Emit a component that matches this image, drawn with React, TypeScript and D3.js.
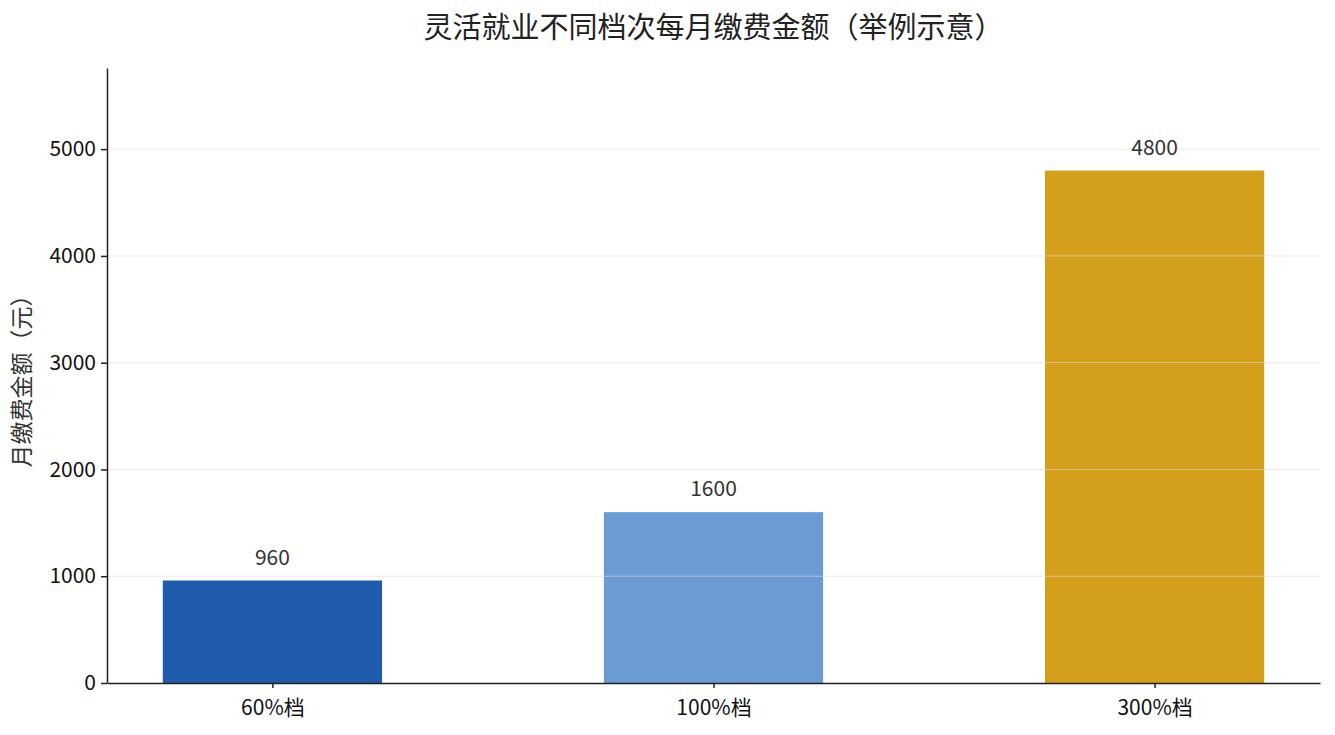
import { useEffect, useRef } from "react";
import * as d3 from "d3";

const categories = ["60%档", "100%档", "300%档"];
const amounts = [960, 1600, 4800];
const barColors = ["#1f5bad", "#6c9bd3", "#d4a01b"];
const yTicks = [0, 1000, 2000, 3000, 4000, 5000];

const WIDTH = 1335;
const HEIGHT = 735;
const FONT = "'Noto Sans CJK SC', 'Noto Sans', sans-serif";

const App = () => {
	const svgRef = useRef<SVGSVGElement>(null);

	useEffect(() => {
		if (!svgRef.current) return;
		const margin = { top: 68, left: 107, right: 15, bottom: 52 };

		const svg = d3.select(svgRef.current);
		svg.selectAll("*").remove();

		// échelles
		const xScale = d3
			.scaleLinear()
			.domain([-0.375, categories.length - 1 + 0.375])
			.range([margin.left, WIDTH - margin.right]);
		const yScale = d3
			.scaleLinear()
			.domain([0, d3.max(amounts)! * 1.2])
			.range([HEIGHT - margin.bottom, margin.top]);

		const barW = (xScale(1) - xScale(0)) * 0.497;

		// titre
		svg
			.append("text")
			.attr("x", (margin.left + WIDTH - margin.right) / 2)
			.attr("y", 38)
			.attr("text-anchor", "middle")
			.attr("fill", "#222")
			.style("font-size", "29px")
			.text("灵活就业不同档次每月缴费金额（举例示意）");

		// barres
		svg
			.append("g")
			.selectAll("rect")
			.data(amounts)
			.enter()
			.append("rect")
			.attr("x", (_d, i) => xScale(i) - barW / 2)
			.attr("y", (d) => yScale(d))
			.attr("width", barW)
			.attr("height", (d) => yScale(0) - yScale(d))
			.attr("fill", (_d, i) => barColors[i]);

		// grille (au-dessus des barres)
		svg
			.append("g")
			.selectAll("line")
			.data(yTicks.filter((t) => t > 0))
			.enter()
			.append("line")
			.attr("x1", margin.left)
			.attr("x2", WIDTH - margin.right)
			.attr("y1", (d) => yScale(d))
			.attr("y2", (d) => yScale(d))
			.attr("stroke", "#dcdcdc")
			.attr("stroke-opacity", 0.6)
			.attr("stroke-width", 1);

		// étiquettes de valeurs
		svg
			.append("g")
			.selectAll("text")
			.data(amounts)
			.enter()
			.append("text")
			.attr("x", (_d, i) => xScale(i))
			.attr("y", (d) => yScale(d) - 16)
			.attr("text-anchor", "middle")
			.attr("fill", "#333")
			.style("font-size", "21px")
			.text((d) => d);

		// axe Y
		const yAxis = d3
			.axisLeft(yScale)
			.tickValues(yTicks)
			.tickFormat(d3.format("d"))
			.tickSize(6)
			.tickPadding(5)
			.tickSizeOuter(0);
		const gy = svg
			.append("g")
			.attr("transform", `translate(${margin.left},0)`)
			.call(yAxis);
		gy.selectAll("text").style("font-size", "21px").attr("fill", "#111");
		gy.selectAll("line").attr("stroke", "#222").attr("stroke-width", 1.5);
		gy.select(".domain").attr("stroke", "#222").attr("stroke-width", 1.5);

		// axe X
		const xAxis = d3
			.axisBottom(xScale)
			.tickValues(categories.map((_c, i) => i))
			.tickFormat((_d, i) => categories[i])
			.tickSize(5)
			.tickPadding(12)
			.tickSizeOuter(0);
		const gx = svg
			.append("g")
			.attr("transform", `translate(0,${HEIGHT - margin.bottom})`)
			.call(xAxis);
		gx.selectAll("text").style("font-size", "21px").attr("fill", "#111");
		gx.selectAll("line").attr("stroke", "#222").attr("stroke-width", 1.5);
		gx.select(".domain").attr("stroke", "#222").attr("stroke-width", 1.5);

		svg.selectAll(".tick text").style("font-family", FONT);

		// titre de l'axe Y
		svg
			.append("text")
			.attr(
				"transform",
				`translate(30,${(margin.top + HEIGHT - margin.bottom) / 2}) rotate(-90)`
			)
			.attr("text-anchor", "middle")
			.attr("fill", "#333")
			.style("font-size", "23px")
			.text("月缴费金额（元）");
	}, []);

	return (
		<svg
			ref={svgRef}
			width={WIDTH}
			height={HEIGHT}
			style={{ display: "block", position: "absolute", left: 0, top: 0, fontFamily: FONT, background: "#fff" }}
		></svg>
	);
};

export default App;
